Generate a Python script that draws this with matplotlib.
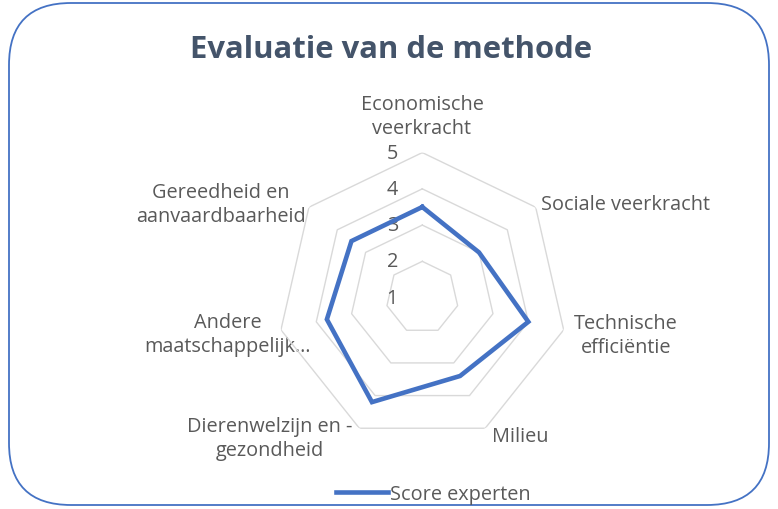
''' Radar chart: Evaluatie van de methode '''
import matplotlib
matplotlib.use('Agg')
import matplotlib.pyplot as plt
import matplotlib.transforms as mtransforms
from matplotlib.patches import FancyBboxPatch
import numpy as np

categories = ['Economische\nveerkracht', 'Sociale veerkracht', 'Technische\nefficiëntie',
              'Milieu', 'Dierenwelzijn en -\ngezondheid', 'Andere\nmaatschappelijk…',
              'Gereedheid en\naanvaardbaarheid']
scores = [3.5, 3.0, 4.0, 3.4, 4.2, 3.7, 3.5]
ticks = [1, 2, 3, 4, 5]
series_name = 'Score experten'
title = 'Evaluatie van de methode'

# label centres in pixels (x, y from top) and alignment
label_pos = [(422, 117), (541, 205), (626, 336), (520, 437),
             (270, 439), (228, 335), (221, 205)]
label_ha = ['center', 'left', 'center', 'center', 'center', 'center', 'center']

W, H = 778, 510
BLUE = '#4472C4'
GRID = '#D9D9D9'
TXT = '#595959'
FS = 14.3
plt.rcParams['font.family'] = ['Open Sans', 'DejaVu Sans']

fig = plt.figure(figsize=(W / 100, H / 100), dpi=100)

# overlay in pixel coordinates for border, title, labels
bg = fig.add_axes([0, 0, 1, 1])
bg.set_xlim(0, W)
bg.set_ylim(H, 0)
bg.axis('off')
bg.add_patch(FancyBboxPatch((9, 4), W - 18, H - 8,
                            boxstyle='round,pad=0,rounding_size=62',
                            fc='white', ec=BLUE, lw=1.3))
bg.text(391, 50, title, ha='center', va='center', fontsize=22.3,
        fontweight='bold', color='#44546A')
for lab, (x, y), ha in zip(categories, label_pos, label_ha):
    bg.text(x, y, lab, ha=ha, va='center', fontsize=FS, color=TXT,
            multialignment='center', linespacing=1.3)

# radar axes, centre at (422, 299) px, outer radius 145 px
cx, cy, R = 422.3, 298.6, 145
ax = fig.add_axes([(cx - R) / W, 1 - (cy + R) / H, 2 * R / W, 2 * R / H],
                  projection='polar')
ax.set_theta_zero_location('N')
ax.set_theta_direction(-1)
ax.set_ylim(ticks[0], ticks[-1])
ax.axis('off')

n = len(scores)
theta = np.linspace(0, 2 * np.pi, n, endpoint=False)
theta_c = np.append(theta, theta[0])
for t in ticks[1:]:
    ax.plot(theta_c, [t] * (n + 1), color=GRID, lw=1.0, zorder=1)

vals = np.append(scores, scores[0])
ax.plot(theta_c, vals, color=BLUE, lw=3.3, solid_joinstyle='miter',
        label=series_name, zorder=3)

off = mtransforms.offset_copy(ax.transData, fig=fig, x=-30, y=0, units='dots')
for t in ticks:
    ax.text(0, t, str(t), transform=off, ha='center', va='center',
            fontsize=FS, color=TXT, zorder=2)

ax.legend(loc='center', bbox_to_anchor=(433 / W, 1 - 495 / H),
          bbox_transform=fig.transFigure, frameon=False, fontsize=FS,
          handlelength=2.6, handletextpad=0.1, labelcolor=TXT)

fig.savefig('out.png', dpi=100)
